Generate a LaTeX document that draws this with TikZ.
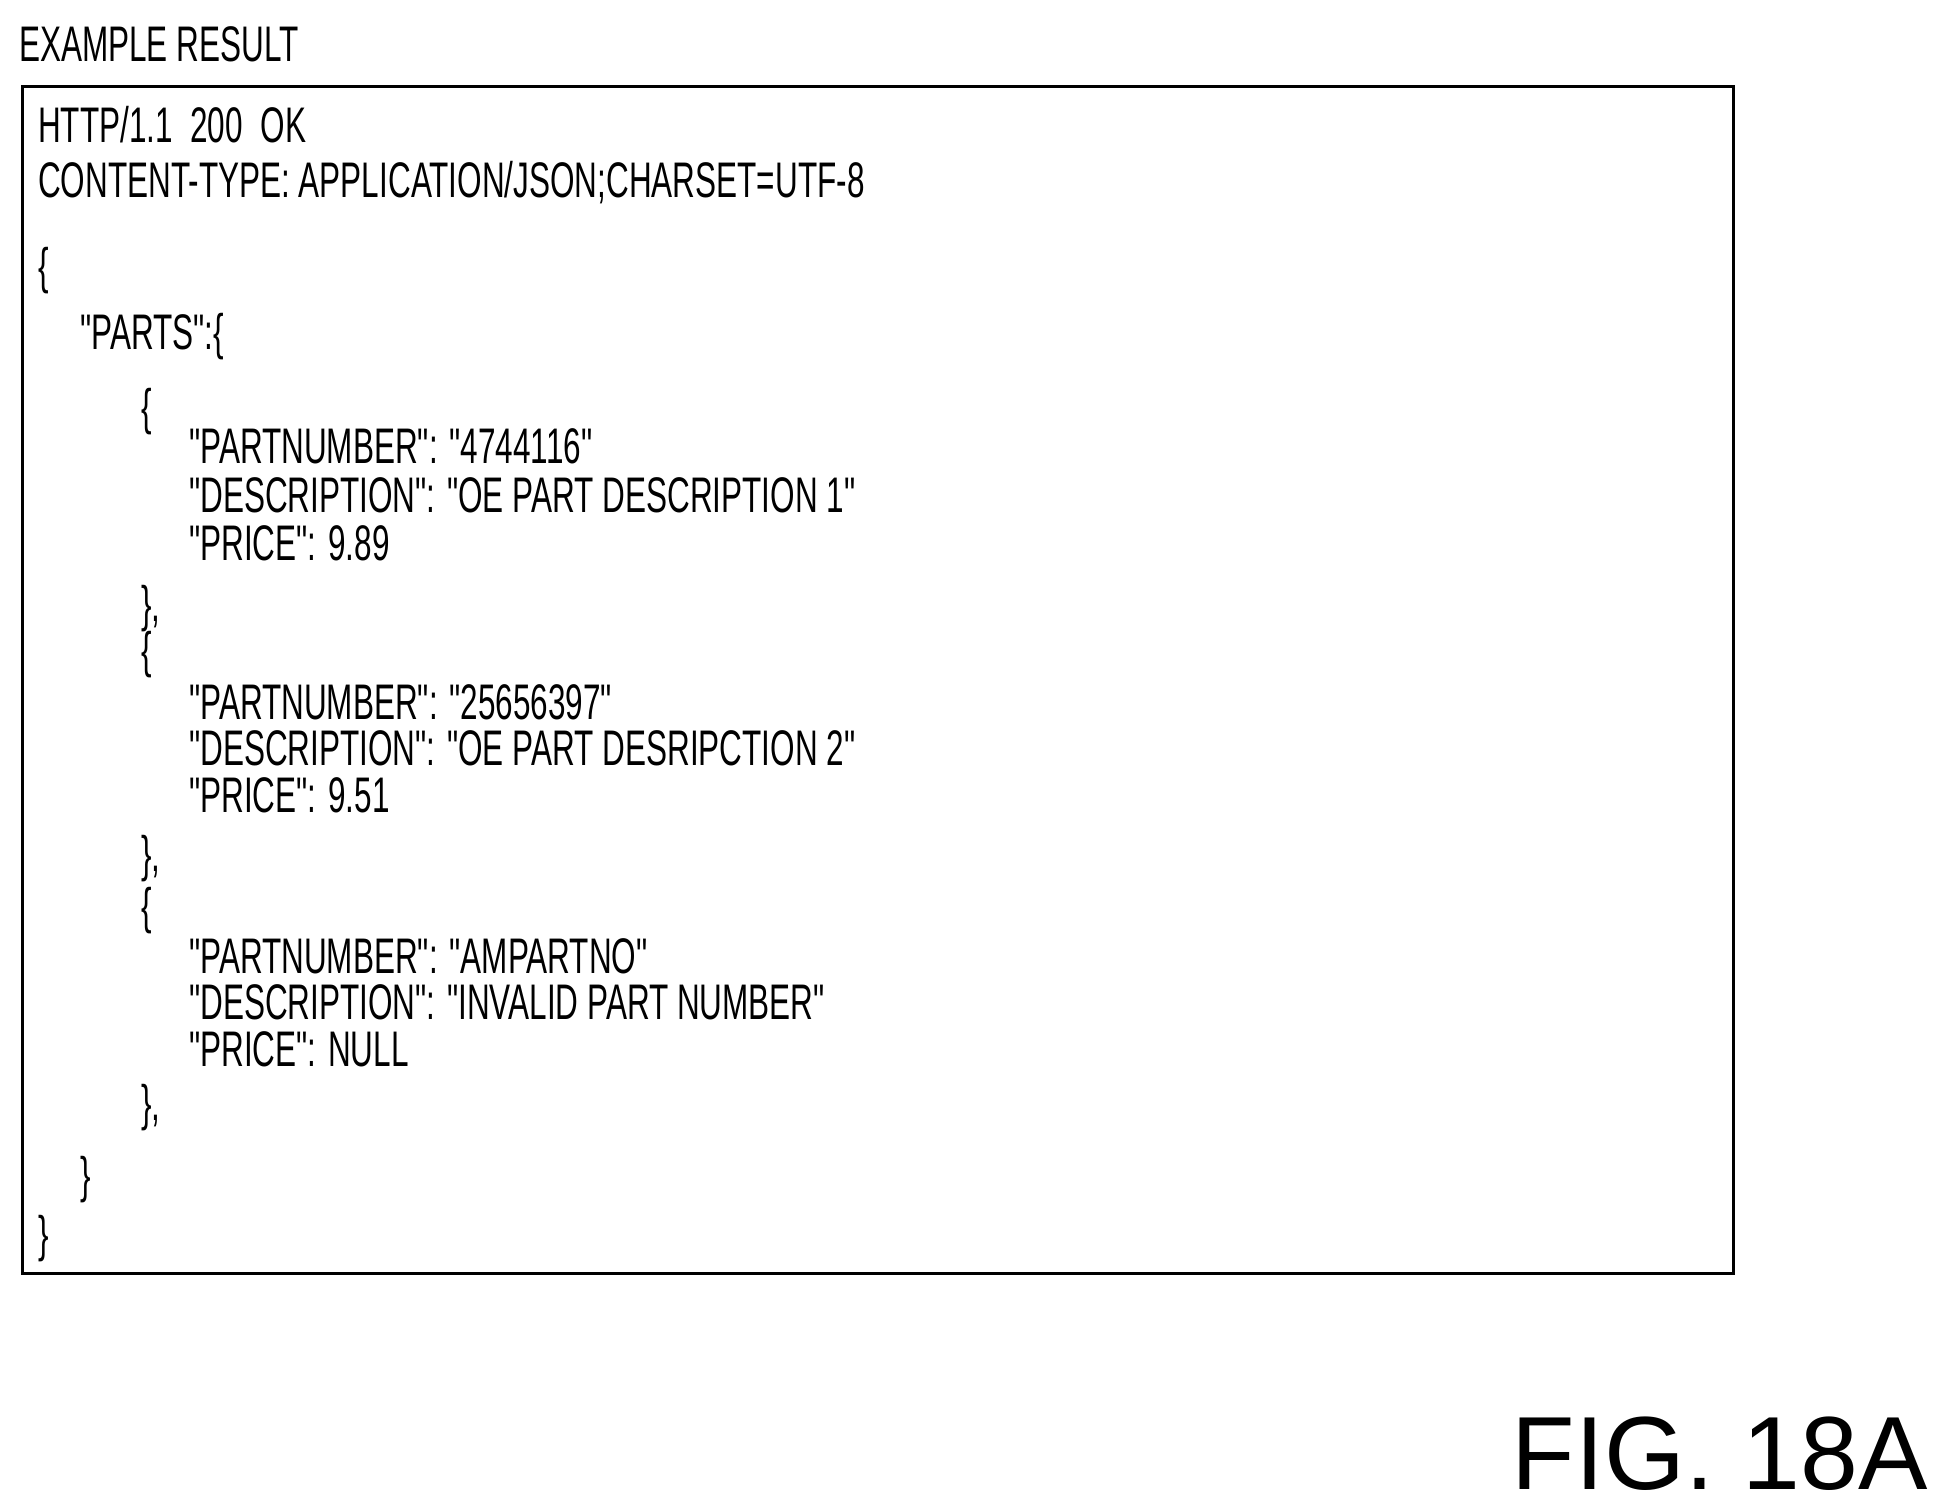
\documentclass[tikz,border=0pt]{standalone}
\usepackage{fontspec}
\setmainfont{Liberation Sans}
\newfontfamily\narrowf[FakeStretch=0.63]{Liberation Sans}
\begin{document}
\begin{tikzpicture}[x=1pt,y=-1pt,
  ln/.style={anchor=west,inner sep=0pt,font=\narrowf\fontsize{50}{50}\selectfont}]
\useasboundingbox (0,0) rectangle (1947,1508);
\node[ln] (title) at (19,44) {EXAMPLE RESULT};
\draw[line width=3pt] (22,86) rectangle (1733,1273);
\foreach \y/\x/\t [count=\i] in {
 125/38/{HTTP/1.1\ \ 200\ \ OK},
 183/38/{CONTENT-TYPE: APPLICATION/JSON;CHARSET=UTF-8},
 271/38/{\{},
 337/80/{"PARTS":\{},
 412/141/{\{},
 446/189/{"PARTNUMBER": "4744116"},
 495/189/{"DESCRIPTION": "OE PART DESCRIPTION 1"},
 543/189/{"PRICE": 9.89},
 609/141/{\},},
 655/141/{\{},
 702/189/{"PARTNUMBER": "25656397"},
 748/189/{"DESCRIPTION": "OE PART DESRIPCTION 2"},
 795/189/{"PRICE": 9.51},
 859/141/{\},},
 911/141/{\{},
 956/189/{"PARTNUMBER": "AMPARTNO"},
 1002/189/{"DESCRIPTION": "INVALID PART NUMBER"},
 1049/189/{"PRICE": NULL},
 1108/141/{\},},
 1180/80/{\}},
 1239/38/{\}}}
  \node[ln] (l\i) at (\x,\y) {\t};
\node[anchor=east,inner sep=0pt,font=\fontsize{104}{104}\selectfont] (fig) at (1928,1454) {FIG. 18A};
\end{tikzpicture}
\end{document}
